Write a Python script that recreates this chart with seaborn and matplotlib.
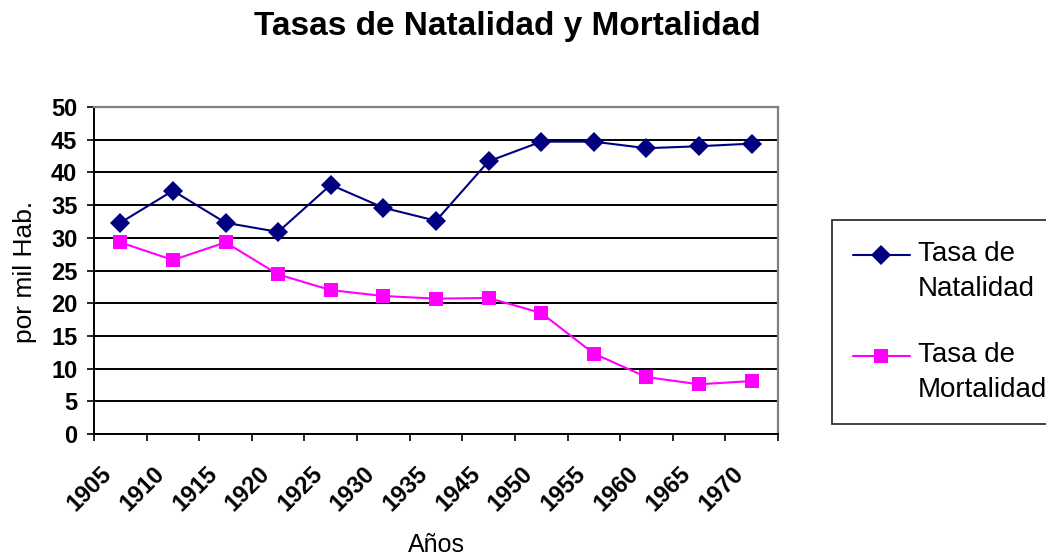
import numpy as np
import pandas as pd
import matplotlib
matplotlib.use('Agg')
import matplotlib.pyplot as plt
from matplotlib.lines import Line2D
from matplotlib.legend_handler import HandlerLine2D
import seaborn as sns

# ------------------------------------ data ------------------------------------
anios = ['1905', '1910', '1915', '1920', '1925', '1930', '1935',
         '1945', '1950', '1955', '1960', '1965', '1970']
natalidad = [32.3, 37.2, 32.3, 30.9, 38.1, 34.6, 32.6, 41.7, 44.7, 44.7, 43.7, 44.0, 44.4]
mortalidad = [29.3, 26.6, 29.3, 24.4, 22.0, 21.1, 20.7, 20.8, 18.5, 12.3, 8.7, 7.6, 8.1]
series = ['Tasa de\nNatalidad', 'Tasa de\nMortalidad']
y_ticks = [0, 5, 10, 15, 20, 25, 30, 35, 40, 45, 50]

# ------------------------------------ long dataframe for seaborn ---------------------------------
pos = list(range(len(anios)))
df = pd.DataFrame({
    'pos': pos + pos,
    'valor': natalidad + mortalidad,
    'serie': [series[0]] * len(anios) + [series[1]] * len(anios),
})


# legend handle next to the first line of a two-line label (Excel style)
class HandlerArriba(HandlerLine2D):
    def create_artists(self, legend, orig_handle, xdescent, ydescent, width, height, fontsize, trans):
        artists = super().create_artists(legend, orig_handle, xdescent, ydescent,
                                         width, height, fontsize, trans)
        for a in artists:
            a.set_ydata(np.asarray(a.get_ydata()) + 0.6 * fontsize)
        return artists


sns.set_style('white')
plt.rcParams['font.family'] = ['Liberation Sans', 'DejaVu Sans']
for key in ['text.color', 'axes.labelcolor', 'xtick.color', 'ytick.color']:
    plt.rcParams[key] = 'black'

fig = plt.figure(figsize=(10.46, 5.55), dpi=100)
ax = fig.add_axes([94 / 1046, 1 - 434 / 555, 684 / 1046, 327 / 555])

sns.lineplot(data=df, x='pos', y='valor', hue='serie', style='serie',
             markers=['D', 's'], dashes=False, palette=['#000080', '#ff00ff'],
             markersize=10, markeredgewidth=0, linewidth=1.5, sort=False, ax=ax)

# ------------------------------------ axes look --------------------------------------------------
ax.set_xlim(-0.5, len(anios) - 0.5)
ax.set_ylim(0, 50)
ax.set_yticks(y_ticks)
ax.set_yticklabels([str(v) for v in y_ticks], fontsize=17, fontweight='bold')

# tick marks on the category borders, labels hung just right of each border
ax.set_xticks(np.arange(len(anios) + 1) - 0.5)
ax.set_xticklabels([])
ax.set_xticks(np.arange(len(anios)) - 0.38, minor=True)
ax.set_xticklabels(anios, minor=True, fontsize=17, fontweight='bold',
                   rotation=45, ha='right', va='top', rotation_mode='anchor')

ax.tick_params(axis='y', direction='out', length=5, width=1.2, color='black', pad=7, left=True)
ax.tick_params(axis='x', which='major', direction='out', length=5, width=1.2, color='black', bottom=True)
ax.tick_params(axis='x', which='minor', length=0, pad=20, bottom=True)

ax.yaxis.grid(True, color='black', linewidth=1.4)
ax.xaxis.grid(False)
ax.set_axisbelow(True)
for side in ['left', 'bottom']:
    ax.spines[side].set_color('black')
    ax.spines[side].set_linewidth(1.4)
for side in ['top', 'right']:
    ax.spines[side].set_color('#808080')
    ax.spines[side].set_linewidth(1.6)

ax.set_xlabel('Años', fontsize=18)
ax.xaxis.label.set_va('baseline')
ax.xaxis.set_label_coords(0.5, -0.361)
ax.set_ylabel('por mil Hab.', fontsize=19)
ax.yaxis.set_label_coords(-0.083, 0.497)

fig.text(0.485, 1 - 35 / 555, 'Tasas de Natalidad y Mortalidad',
         ha='center', va='baseline', fontsize=24, fontweight='bold')

# ------------------------------------ legend -----------------------------------------------------
handles, labels = ax.get_legend_handles_labels()
ax.legend_.remove()
leg = fig.legend(handles, labels, loc='upper left', bbox_to_anchor=(832 / 1046, 1 - 220 / 555),
                 frameon=True, fancybox=False, edgecolor='black', fontsize=20,
                 handlelength=2.05, labelspacing=1.45, borderpad=0.75, handletextpad=0.3,
                 borderaxespad=0, handler_map={Line2D: HandlerArriba()})
leg.get_frame().set_linewidth(1.3)
for t in leg.get_texts():
    t.set_linespacing(1.45)

fig.savefig('out.png', dpi=100, facecolor='white')
